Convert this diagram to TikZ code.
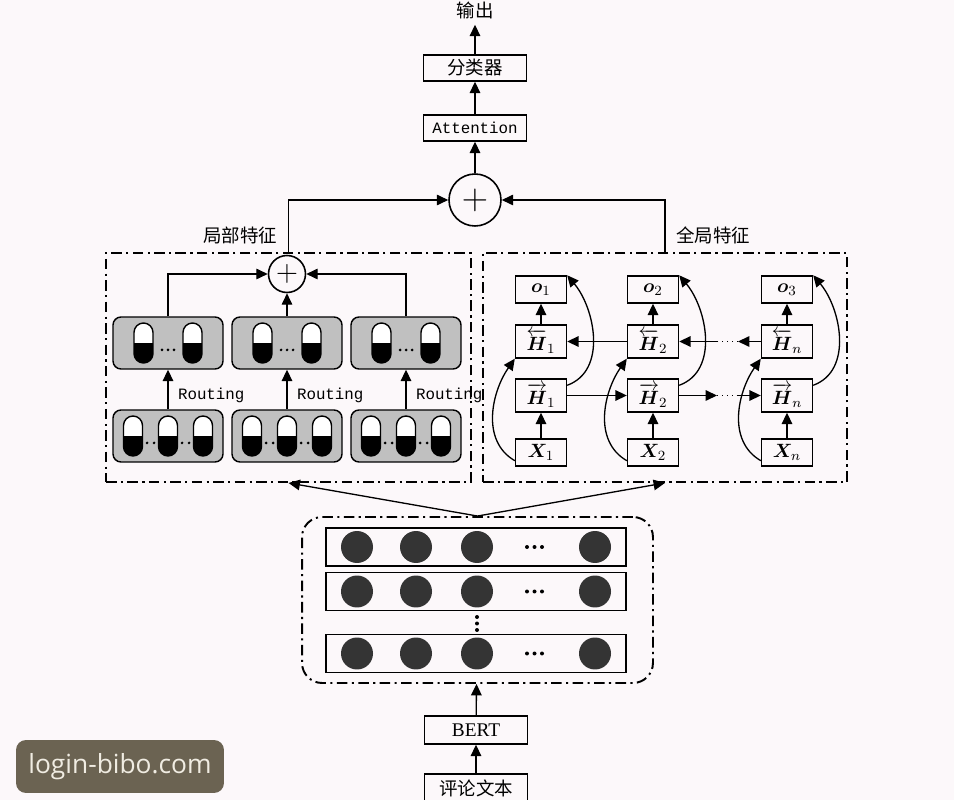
\documentclass[tikz,border=0pt]{standalone}
\usepackage{amsmath,amssymb}
\usepackage{bm}
\usepackage{fontspec}
\setmainfont{Liberation Serif}
\setmonofont{Liberation Mono}
\newfontfamily\cjk{Noto Sans CJK SC}
\newfontfamily\wmfont{Open Sans}
\usepackage{tikz}
\usetikzlibrary{arrows.meta}

\definecolor{bgpink}{RGB}{252,248,250}
\definecolor{capgray}{RGB}{192,192,192}
\definecolor{dotgray}{RGB}{52,52,52}
\definecolor{wmbrown}{RGB}{107,99,82}
\definecolor{wmtext}{RGB}{240,236,226}

% capsule at centre (x,y): white top half, black bottom half
\newcommand{\capsule}[2]{%
  \begin{scope}
    \clip[rounded corners=0.19cm] (#1-9.5,#2-20) rectangle (#1+9.5,#2+20);
    \fill[white] (#1-9.5,#2-20) rectangle (#1+9.5,#2);
    \fill[black] (#1-9.5,#2) rectangle (#1+9.5,#2+20);
  \end{scope}
  \draw[line width=0.8pt,rounded corners=0.19cm] (#1-9.5,#2-20) rectangle (#1+9.5,#2+20);}

\begin{document}
\begin{tikzpicture}[x=0.02cm,y=-0.02cm,
        >={Triangle[length=6.5pt,width=6pt]},
        link/.style={->,line width=0.75pt},
        blockbox/.style={draw,line width=0.8pt,minimum width=2.06cm,minimum height=0.52cm,inner sep=0pt},
        dashframe/.style={draw,line width=1.1pt,dash pattern=on 6pt off 2.5pt on 1.2pt off 2.5pt,inner sep=0pt},
        capsgroup/.style={draw,line width=0.8pt,fill=capgray,rounded corners=0.16cm,minimum width=2.2cm,minimum height=1.04cm,inner sep=0pt},
        plus/.style={circle,draw,line width=0.9pt,inner sep=0pt},
        cell/.style={draw,line width=0.8pt,minimum width=1.02cm,inner sep=0pt,font=\fontsize{11}{12}\selectfont},
        embrow/.style={draw,line width=0.8pt,minimum width=6cm,minimum height=0.76cm,inner sep=0pt},
        cntxt/.style={font=\cjk\fontsize{10.5}{12}\selectfont},
        monotxt/.style={font=\ttfamily\fontsize{9}{10}\selectfont}
    ]
        \path[use as bounding box,fill=bgpink] (0,0) rectangle (954,800);

        % Output part
        \node[cntxt] (output) at (475,10) {输出};
        \node[blockbox,cntxt] (cls) at (475,68) {分类器};
        \node[blockbox,monotxt] (att) at (475,128) {Attention};
        \node[plus,minimum size=1.04cm] (sum) at (475,200) {\fontsize{20}{20}\selectfont$+$};
        \draw[link] (sum) -- (att);
        \draw[link] (att) -- (cls);
        \draw[link] (cls) -- (output);

        % Frames
        \node[dashframe,minimum width=7.3cm,minimum height=4.58cm] (local) at (288.5,367.5) {};
        \node[dashframe,minimum width=7.28cm,minimum height=4.58cm] (global) at (665,367.5) {};
        \node[cntxt] (loclabel) at (240,235) {局部特征};
        \node[cntxt] (glolabel) at (713,235) {全局特征};
        \draw[link] (local.north) |- (sum.west);
        \draw[link] (global.north) |- (sum.east);

        % Capsules
        \node[plus,minimum size=0.74cm] (lsum) at (287,274) {\fontsize{17}{17}\selectfont$+$};
        \foreach \x/\n in {168/1,287/2,406/3} {
            \node[capsgroup] (top\n) at (\x,343) {};
            \node[capsgroup] (bot\n) at (\x,436) {};
            \capsule{\x-24.5}{343}
            \capsule{\x+24.5}{343}
            \foreach \d in {-6,0,6} \fill (\x+\d,350) circle (0.03cm);
            \capsule{\x-35}{436}
            \capsule{\x}{436}
            \capsule{\x+35}{436}
            \foreach \d in {-21,-14,14,21} \fill (\x+\d,443) circle (0.03cm);
            \draw[link] (bot\n) -- node[monotxt,right,pos=0.35,xshift=2pt] (rout\n) {Routing} (top\n);
        }
        \draw[link] (top1.north) |- (lsum.west);
        \draw[link] (top2) -- (lsum);
        \draw[link] (top3.north) |- (lsum.east);

        % BiLSTM
        \foreach \x/\n/\o in {541/1/1,653/2/2,787/n/3} {
            \node[cell,minimum height=0.54cm] (o\n) at (\x,289.5) {$\bm{o}_{\o}$};
            \node[cell,minimum height=0.66cm] (hb\n) at (\x,341.5) {$\overleftarrow{\bm{H}}_{\n}$};
            \node[cell,minimum height=0.66cm] (hf\n) at (\x,395.5) {$\overrightarrow{\bm{H}}_{\n}$};
            \node[cell,minimum height=0.54cm] (x\n) at (\x,452.5) {$\bm{X}_{\n}$};
            \draw[link] (x\n) -- (hf\n);
            \draw[link] (hb\n) -- (o\n);
            \draw[link] ([yshift=0.12cm]x\n.south west) to[out=150,in=235] (hb\n.south west);
            \draw[link] ([yshift=-0.14cm]hf\n.north east) to[out=20,in=-50] (o\n.north east);
        }
        \coordinate (fa) at (717,395.5);
        \coordinate (fb) at (738,395.5);
        \coordinate (ba) at (738,341.5);
        \coordinate (bb) at (717,341.5);
        \draw[link] (hf1) -- (hf2);
        \draw[link] (hf2) -- (fa);
        \draw[line width=0.8pt,dotted] (fa) -- (fb);
        \draw[link] (fb) -- (hfn);
        \draw[link] (hb2) -- (hb1);
        \draw[link] (hbn) -- (ba);
        \draw[line width=0.8pt,dotted] (ba) -- (bb);
        \draw[link] (bb) -- (hb2);

        % Embedding
        \node[dashframe,rounded corners=0.4cm,minimum width=7.02cm,minimum height=3.32cm] (emb) at (477.5,600) {};
        \foreach \y/\n in {547/1,591.5/2,653.5/3} {
            \node[embrow] (row\n) at (476,\y) {};
            \foreach \x in {357,416,477,595} \fill[dotgray] (\x,\y) circle (0.32cm);
            \foreach \x in {527,534.5,542} \fill (\x,\y) circle (0.04cm);
        }
        \foreach \y in {617,623.5,630} \fill (477,\y) circle (0.04cm);
        \draw[link] (emb.north) -- (local.south);
        \draw[link] (emb.north) -- (global.south);

        % Input
        \node[blockbox,minimum height=0.56cm,font=\fontsize{11}{12}\selectfont] (bert) at (476,730) {BERT};
        \node[blockbox,cntxt,minimum height=0.56cm] (review) at (476,788) {评论文本};
        \draw[link] (review) -- (bert);
        \draw[link] (bert) -- (emb);

        % Watermark
        \node[fill=wmbrown,rounded corners=0.2cm,minimum width=4.16cm,minimum height=1.06cm,text=wmtext,font=\wmfont\fontsize{15}{16}\selectfont] (wmark) at (120,766.5) {login-bibo.com};
    \end{tikzpicture}
\end{document}
